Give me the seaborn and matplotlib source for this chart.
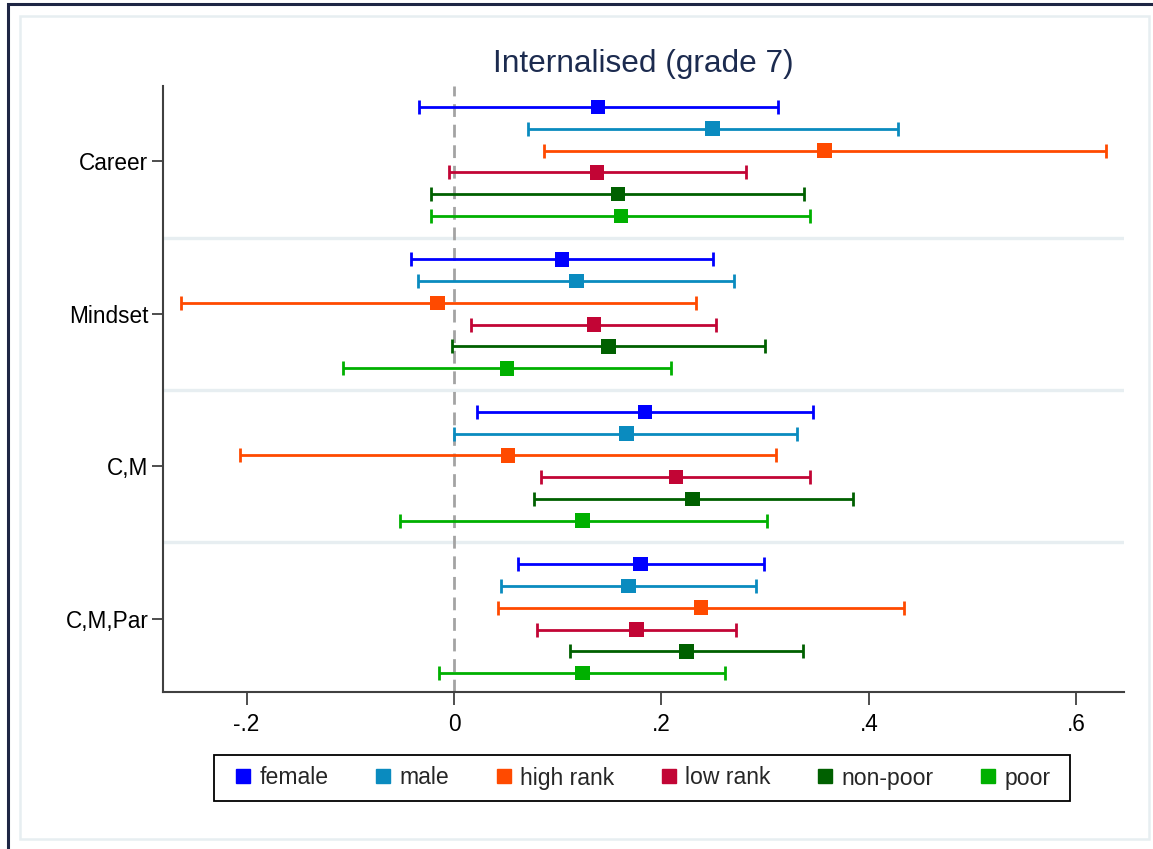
import numpy as np
import pandas as pd
import matplotlib
matplotlib.use("Agg")
import matplotlib.pyplot as plt
import seaborn as sns
from matplotlib.patches import Rectangle
from matplotlib.lines import Line2D

# Outcome specifications (rows of the coefficient plot) and subgroups
groups = ["Career", "Mindset", "C,M", "C,M,Par"]
subgroups = ["female", "male", "high rank", "low rank", "non-poor", "poor"]
colors = ["#0000ff", "#0a8bbf", "#ff4a00", "#c20535", "#006000", "#00b000"]

# Point estimates with lower / upper confidence bounds, one list per specification
career_est = [0.139, 0.249, 0.357, 0.138, 0.158, 0.161]
career_lo = [-0.034, 0.071, 0.087, -0.005, -0.022, -0.022]
career_hi = [0.312, 0.428, 0.628, 0.281, 0.337, 0.343]

mindset_est = [0.104, 0.118, -0.016, 0.135, 0.149, 0.051]
mindset_lo = [-0.041, -0.035, -0.263, 0.016, -0.002, -0.107]
mindset_hi = [0.250, 0.270, 0.233, 0.253, 0.300, 0.209]

cm_est = [0.184, 0.166, 0.052, 0.214, 0.230, 0.124]
cm_lo = [0.022, 0.000, -0.206, 0.084, 0.077, -0.052]
cm_hi = [0.346, 0.331, 0.310, 0.343, 0.385, 0.302]

cmpar_est = [0.180, 0.168, 0.238, 0.176, 0.224, 0.124]
cmpar_lo = [0.062, 0.045, 0.042, 0.080, 0.112, -0.014]
cmpar_hi = [0.299, 0.291, 0.434, 0.272, 0.336, 0.261]

x_ticks = [-0.2, 0.0, 0.2, 0.4, 0.6]
x_tick_labels = ["-.2", "0", ".2", ".4", ".6"]

title_text = "Internalised (grade 7)"

# Long table: one row per (specification, subgroup)
est_all = [career_est, mindset_est, cm_est, cmpar_est]
lo_all = [career_lo, mindset_lo, cm_lo, cmpar_lo]
hi_all = [career_hi, mindset_hi, cm_hi, cmpar_hi]
n_sub = len(subgroups)
step = n_sub + 1
records = []
for gi, g in enumerate(groups):
    for si, s in enumerate(subgroups):
        records.append({
            "group": g, "subgroup": s,
            "est": est_all[gi][si], "lo": lo_all[gi][si], "hi": hi_all[gi][si],
            "pos": gi * step + si,
        })
df = pd.DataFrame(records)

sns.set_theme(style="white")
plt.rcParams["font.family"] = ["Liberation Sans", "DejaVu Sans"]

W, H = 1153, 849
fig = plt.figure(figsize=(W / 100, H / 100), dpi=100)
fig.patch.set_facecolor("white")

# Rectangles placed in pixel units of the figure
def px_rect(x0, y0, x1, y1, **kw):
    return Rectangle((x0 / W, 1 - y1 / H), (x1 - x0) / W, (y1 - y0) / H,
                     transform=fig.transFigure, fill=False, **kw)

# Outer dark border and inner pale frame
fig.patches.append(px_rect(8, 4, 1175, 880, edgecolor="#1e2644", linewidth=2.2))
fig.patches.append(px_rect(19.5, 15.5, 1149, 839, edgecolor="#e7eef1", linewidth=1.8))

ax_l, ax_r, ax_t, ax_b = 163, 1124, 86, 692
ax = fig.add_axes([ax_l / W, 1 - ax_b / H, (ax_r - ax_l) / W, (ax_b - ax_t) / H])
ax.set_facecolor("white")

# Pale separators between specifications
for gi in range(1, len(groups)):
    ax.axhline(gi * step - 1, color="#e7eef1", linewidth=2.4, zorder=0)

# Reference line at zero
ax.axvline(0, color="#a3a3a3", linewidth=2.0, dashes=(4.6, 2.8), zorder=1)

# Confidence intervals
for s, c in zip(subgroups, colors):
    d = df[df["subgroup"] == s]
    ax.errorbar(d["est"], d["pos"],
                xerr=[d["est"] - d["lo"], d["hi"] - d["est"]],
                fmt="none", ecolor=c, elinewidth=2.0, capsize=4.8,
                capthick=2.0, zorder=2)

# Point estimates
sns.scatterplot(data=df, x="est", y="pos", hue="subgroup", hue_order=subgroups,
                palette=colors, marker="s", s=110, linewidth=0, legend=False,
                ax=ax, zorder=3)

ax.set_xlim(-0.2805, 0.6458)
ax.set_ylim(len(groups) * step - 1 - 0.13, -0.965)
ax.set_xticks(x_ticks)
ax.set_xticklabels(x_tick_labels)
ax.set_yticks([gi * step + (n_sub - 1) / 2 for gi in range(len(groups))])
ax.set_yticklabels(groups)
ax.set_xlabel("")
ax.set_ylabel("")

for side in ["top", "right"]:
    ax.spines[side].set_visible(False)
for side in ["left", "bottom"]:
    ax.spines[side].set_color("#404040")
    ax.spines[side].set_linewidth(1.5)

ax.tick_params(axis="x", direction="out", length=9, width=1.3, color="#404040",
               labelsize=16.3, labelcolor="black", pad=6, bottom=True)
ax.tick_params(axis="y", direction="out", length=8, width=1.3, color="#404040",
               labelsize=16.3, labelcolor="black", pad=2.5, left=True)

fig.text((ax_l + ax_r) / 2 / W, 1 - 64 / H, title_text, ha="center", va="center",
         fontsize=22.8, color="#1c2b4f")

# Legend: entries in one row, boxed by a plain black frame
handles = [Line2D([0], [0], marker="s", linestyle="none", markersize=10,
                  markerfacecolor=c, markeredgecolor=c) for c in colors]
leg = fig.legend(handles, subgroups, ncol=6, loc="center",
                 bbox_to_anchor=(640 / W, 1 - 778 / H), frameon=False,
                 fontsize=16.6, handlelength=1.2,
                 handletextpad=0.12, columnspacing=1.76, borderpad=0.5)
fig.patches.append(px_rect(214, 755, 1070, 801, edgecolor="black", linewidth=1.3))

fig.savefig("out.png", dpi=100, facecolor="white")
